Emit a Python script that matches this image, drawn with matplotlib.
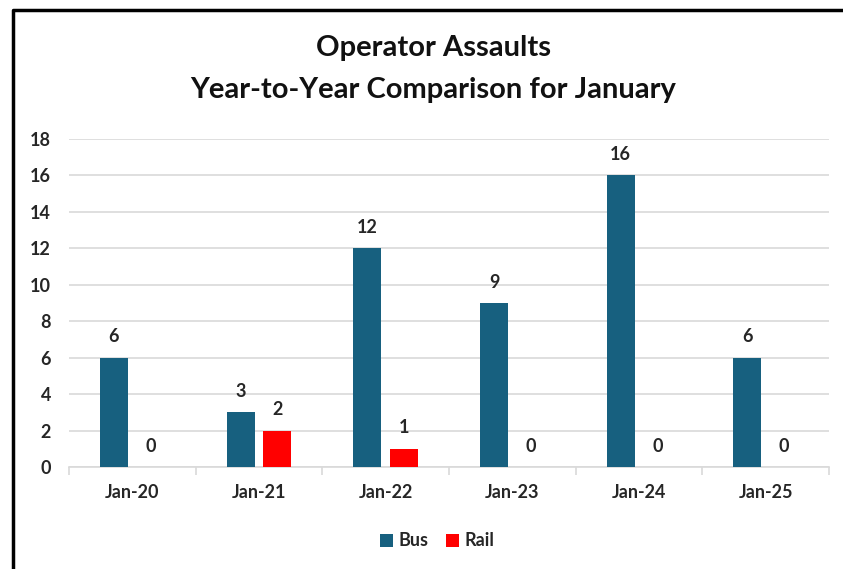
import matplotlib.pyplot as plt
import numpy as np
from matplotlib.lines import Line2D

# Data
months = ['Jan-20', 'Jan-21', 'Jan-22', 'Jan-23', 'Jan-24', 'Jan-25']
bus = [6, 3, 12, 9, 16, 6]
rail = [0, 2, 1, 0, 0, 0]

plt.rcParams['font.family'] = ['Lato', 'DejaVu Sans']

fig = plt.figure(figsize=(8.43, 5.69), dpi=100)
ax = fig.add_axes([69 / 843, 1 - 467 / 569, 760 / 843, (467 - 139) / 569])

x = np.arange(len(months))
w = 0.22
off = 0.145
b1 = ax.bar(x - off, bus, w, color='#17607F', label='Bus', zorder=3)
b2 = ax.bar(x + off, rail, w, color='#FF0000', label='Rail', zorder=3)

for bars in (b1, b2):
    for r in bars:
        ax.annotate(str(int(r.get_height())),
                    (r.get_x() + r.get_width() / 2, r.get_height()),
                    xytext=(0, 9), textcoords='offset points',
                    ha='center', va='bottom', fontsize=13, fontweight='bold',
                    color='#262626')

ax.set_xlim(-0.5, len(months) - 0.5)
ax.set_ylim(0, 18)
ax.set_yticks(range(0, 19, 2))
ax.grid(axis='y', color='#D9D9D9', linewidth=1.2, zorder=0)
ax.set_axisbelow(True)

ax.set_xticks(x)
ax.set_xticklabels(months)
ax.set_xticks(np.arange(-0.5, len(months)), minor=True)
ax.tick_params(axis='x', which='major', length=0, pad=12)
ax.tick_params(axis='x', which='minor', length=6, color='#D9D9D9', width=1.2)
ax.tick_params(axis='y', length=0, pad=13)
for lab in ax.get_xticklabels() + ax.get_yticklabels():
    lab.set_fontsize(13)
    lab.set_fontweight('bold')
    lab.set_color('#262626')

for s in ['top', 'right', 'left']:
    ax.spines[s].set_visible(False)
ax.spines['bottom'].set_color('#D9D9D9')
ax.spines['bottom'].set_linewidth(1.2)

fig.text(433 / 843, 1 - 48 / 569, 'Operator Assaults', ha='center', va='center',
         fontsize=21, fontweight='bold', color='#111111')
fig.text(433 / 843, 1 - 90 / 569, 'Year-to-Year Comparison for January',
         ha='center', va='center', fontsize=21, fontweight='bold', color='#111111')

leg = fig.legend(loc='center', bbox_to_anchor=(437 / 843, 1 - 541 / 569), ncol=2,
                 frameon=False, handlelength=0.7, handleheight=0.7,
                 handletextpad=0.3, columnspacing=1.0,
                 prop={'size': 13, 'weight': 'bold'})
for t in leg.get_texts():
    t.set_color('#262626')

# black frame on left and top
fig.add_artist(Line2D([13 / 843, 13 / 843, 1.0], [0.0, 1 - 10 / 569, 1 - 10 / 569],
                      transform=fig.transFigure, color='black', linewidth=2.5))

fig.savefig('out.png', dpi=100)
